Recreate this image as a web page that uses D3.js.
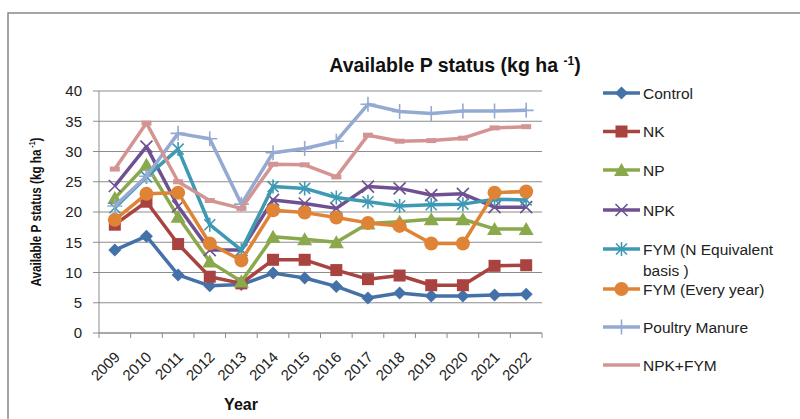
<!DOCTYPE html>
<html>
<head>
<meta charset="utf-8">
<script src="https://cdn.jsdelivr.net/npm/d3@7/dist/d3.min.js"></script>
<style>
  body { margin: 0; background: #fff; }
  svg { display: block; }
</style>
</head>
<body>
<svg id="chart" width="800" height="419"></svg>
<script>
// Data
const years = ['2009', '2010', '2011', '2012', '2013', '2014', '2015',
  '2016', '2017', '2018', '2019', '2020', '2021', '2022']
const yTicks = [0, 5, 10, 15, 20, 25, 30, 35, 40]

const control = [13.7, 16.0, 9.6, 7.8, 8.0, 9.9, 9.1, 7.7, 5.8, 6.6, 6.1, 6.1, 6.3, 6.4]
const nk = [17.9, 21.7, 14.7, 9.3, 8.2, 12.1, 12.1, 10.4, 8.9, 9.5, 7.9, 7.9, 11.1, 11.2]
const np = [22.3, 27.8, 19.2, 11.8, 8.5, 15.9, 15.5, 15.0, 18.1, 18.4, 18.8, 18.8, 17.2, 17.2]
const npk = [24.3, 30.8, 20.9, 13.7, 13.7, 22.0, 21.4, 20.6, 24.2, 23.9, 22.8, 23.0, 20.8, 20.8]
const fymN = [20.7, 25.8, 30.4, 17.9, 13.7, 24.2, 23.9, 22.4, 21.7, 21.0, 21.2, 21.3, 22.1, 22.0]
const fymEvery = [18.7, 23.0, 23.2, 14.8, 12.0, 20.3, 19.9, 19.1, 18.2, 17.7, 14.8, 14.8, 23.2, 23.4]
const poultry = [21.0, 25.9, 33.0, 32.1, 21.3, 29.8, 30.5, 31.7, 37.8, 36.6, 36.3, 36.7, 36.7, 36.8]
const npkFym = [27.1, 34.7, 25.0, 21.9, 20.6, 27.9, 27.8, 25.8, 32.7, 31.7, 31.8, 32.2, 33.9, 34.1]

const seriesNames = ['Control', 'NK', 'NP', 'NPK', 'FYM (N Equivalent|basis )',
  'FYM (Every year)', 'Poultry Manure', 'NPK+FYM']
const seriesValues = [control, nk, np, npk, fymN, fymEvery, poultry, npkFym]
const seriesColors = ['#4472A8', '#A9433F', '#8AA84C', '#6F5192', '#3E99B2',
  '#DF8436', '#94AAD2', '#D39594']
const seriesMarkers = ['diamond', 'square', 'triangle', 'x', 'star', 'circle', 'plus', 'dash']

const svg = d3.select('#chart')
const FONT = '"Liberation Sans", Arial, sans-serif'

// outer chart frame
svg.append('rect')
  .attr('x', 8).attr('y', 13).attr('width', 800).attr('height', 420)
  .attr('fill', '#fff').attr('stroke', '#888').attr('stroke-width', 1.5)

const plot = { left: 99, right: 542, top: 91, bottom: 333 }

const x = d3.scaleBand().domain(years).range([plot.left, plot.right]).padding(0)
const y = d3.scaleLinear().domain([0, 40]).range([plot.bottom, plot.top])
const cx = d => x(d) + x.bandwidth() / 2

// gridlines + y ticks
const gy = svg.append('g')
gy.selectAll('line').data(yTicks).join('line')
  .attr('x1', plot.left - 6).attr('x2', plot.right)
  .attr('y1', d => y(d)).attr('y2', d => y(d))
  .attr('stroke', '#8c8c8c').attr('stroke-width', 1)
gy.selectAll('text').data(yTicks).join('text')
  .attr('x', plot.left - 17).attr('y', d => y(d)).attr('dy', '0.36em')
  .attr('text-anchor', 'end')
  .style('font-family', FONT).style('font-size', '15px').style('fill', '#222')
  .text(d => d)

// axes
svg.append('line')
  .attr('x1', plot.left).attr('x2', plot.left)
  .attr('y1', plot.top).attr('y2', plot.bottom)
  .attr('stroke', '#8c8c8c')
svg.append('line')
  .attr('x1', plot.left).attr('x2', plot.right)
  .attr('y1', plot.bottom).attr('y2', plot.bottom)
  .attr('stroke', '#8c8c8c')
const xTickPos = years.map(d => x(d)).concat([plot.right])
svg.append('g').selectAll('line').data(xTickPos).join('line')
  .attr('x1', d => d).attr('x2', d => d)
  .attr('y1', plot.bottom).attr('y2', plot.bottom + 5)
  .attr('stroke', '#8c8c8c')

svg.append('g').selectAll('text').data(years).join('text')
  .attr('transform', d => `translate(${cx(d) + 6},${plot.bottom + 25}) rotate(-45)`)
  .attr('text-anchor', 'end')
  .style('font-family', FONT).style('font-size', '15px').style('fill', '#222')
  .text(d => d)

// title
const title = svg.append('text')
  .attr('x', 455).attr('y', 72).attr('text-anchor', 'middle')
  .style('font-family', FONT).style('font-size', '19.5px').style('font-weight', 'bold')
  .style('fill', '#111')
title.append('tspan').text('Available P status (kg ha ')
title.append('tspan').attr('dy', -7).style('font-size', '12px').text('-1')
title.append('tspan').attr('dy', 7).text(')')

// axis titles
svg.append('text')
  .attr('x', 241).attr('y', 410).attr('text-anchor', 'middle')
  .style('font-family', FONT).style('font-size', '16px').style('font-weight', 'bold')
  .style('fill', '#111')
  .text('Year')

const yl = svg.append('g').attr('transform', 'translate(41,212) rotate(-90)')
const ylText = yl.append('text').attr('text-anchor', 'middle')
  .style('font-family', '"Liberation Sans Narrow", "Arial Narrow", ' + FONT)
  .style('font-size', '15px').style('font-weight', 'bold').style('fill', '#111')
ylText.append('tspan').text('Available P status (kg ha')
ylText.append('tspan').attr('dy', -6).style('font-size', '9px').text(' -1')
ylText.append('tspan').attr('dy', 6).text(')')
// squeeze to the narrow width seen in the reference
const ylw = ylText.node().getBBox().width
ylText.attr('transform', `scale(${149 / ylw},1)`)

// marker drawing
function drawMarker(g, type, color) {
  switch (type) {
    case 'diamond':
      g.append('path').attr('d', 'M0,-6.5L6.5,0L0,6.5L-6.5,0Z').attr('fill', color)
      break
    case 'square':
      g.append('rect').attr('x', -6).attr('y', -6).attr('width', 12).attr('height', 12)
        .attr('fill', color)
      break
    case 'triangle':
      g.append('path').attr('d', 'M0,-7L7.5,6L-7.5,6Z').attr('fill', color)
      break
    case 'x':
      g.append('path').attr('d', 'M-6,-6L6,6M-6,6L6,-6')
        .attr('stroke', color).attr('stroke-width', 1.6).attr('fill', 'none')
      break
    case 'star':
      g.append('path').attr('d', 'M-5.5,-5.5L5.5,5.5M-5.5,5.5L5.5,-5.5M0,-7L0,7')
        .attr('stroke', color).attr('stroke-width', 1.6).attr('fill', 'none')
      break
    case 'circle':
      g.append('circle').attr('r', 7).attr('fill', color)
      break
    case 'plus':
      g.append('path').attr('d', 'M-7.5,0L7.5,0M0,-7.5L0,7.5')
        .attr('stroke', color).attr('stroke-width', 1.6).attr('fill', 'none')
      break
    case 'dash':
      g.append('rect').attr('x', -5).attr('y', -2.5).attr('width', 10).attr('height', 5)
        .attr('fill', color)
      break
  }
}

const line = d3.line().x((d, i) => cx(years[i])).y(d => y(d))

seriesValues.forEach((vals, si) => {
  const color = seriesColors[si]
  const g = svg.append('g')
  g.append('path').datum(vals)
    .attr('d', line)
    .attr('fill', 'none').attr('stroke', color)
    .attr('stroke-width', 3.5).attr('stroke-linejoin', 'round')
  vals.forEach((v, i) => {
    const m = g.append('g').attr('transform', `translate(${cx(years[i])},${y(v)})`)
    drawMarker(m, seriesMarkers[si], color)
  })
})

// legend
const legendY = [93, 131.5, 170, 210, 249, 289, 327, 365]
seriesNames.forEach((name, si) => {
  const color = seriesColors[si]
  const g = svg.append('g').attr('transform', `translate(603,${legendY[si]})`)
  g.append('line').attr('x1', 0).attr('x2', 37)
    .attr('stroke', color).attr('stroke-width', 3.5)
  const m = g.append('g').attr('transform', 'translate(18.5,0)')
  if (seriesMarkers[si] !== 'dash') drawMarker(m, seriesMarkers[si], color)
  const lines = name.split('|')
  lines.forEach((t, k) => {
    g.append('text').attr('x', 40).attr('y', k * 21).attr('dy', '0.36em')
      .style('font-family', FONT).style('font-size', '15.5px').style('fill', '#222')
      .text(t)
  })
})
</script>
</body>
</html>
